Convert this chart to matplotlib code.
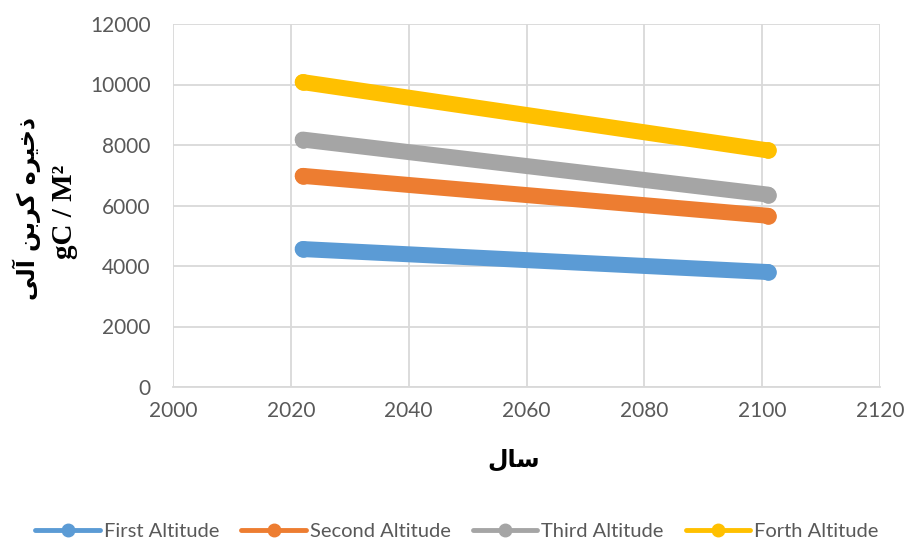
import matplotlib
matplotlib.use('Agg')
from matplotlib import pyplot as plt

# data
years = [2022, 2101]
first_alt = [4560, 3800]
second_alt = [6980, 5660]
third_alt = [8180, 6360]
forth_alt = [10080, 7820]

series_names = ['First Altitude', 'Second Altitude', 'Third Altitude', 'Forth Altitude']
series_colors = ['#5b9bd5', '#ed7d31', '#a5a5a5', '#ffc000']

# Persian labels, written in presentation forms (visual order) since matplotlib does no shaping
ylabel_fa = '\uFEF0\uFEDF\uFE81 \uFEE6\uFE91\uFEAE\uFEDB \uFEE9\uFEAE\uFEF4\uFEA7\uFEAB'
xlabel_fa = '\uFEDD\uFE8E\uFEB3'

fig = plt.figure(figsize=(9.07, 5.43), dpi=100)
ax = fig.add_axes([173/907, 1-387/543, (880-173)/907, (387-24)/543])

for vals, name, col in zip([first_alt, second_alt, third_alt, forth_alt], series_names, series_colors):
    ax.plot(years, vals, color=col, lw=11.5, solid_capstyle='round',
            marker='o', markersize=11, label=name, zorder=3)

ax.set_xlim(2000, 2120)
ax.set_ylim(0, 12000)
ax.set_xticks(range(2000, 2121, 20))
ax.set_yticks(range(0, 12001, 2000))
ax.grid(True, color='#d9d9d9', lw=1.3)
ax.set_axisbelow(True)
for s in ['top', 'right', 'left']:
    ax.spines[s].set_visible(False)
ax.spines['bottom'].set_color('#d9d9d9')
ax.spines['bottom'].set_linewidth(1.3)
ax.tick_params(axis='both', length=0, labelsize=15, labelcolor='#595959')
ax.tick_params(axis='y', pad=16)
ax.tick_params(axis='x', pad=10)
for lab in ax.get_xticklabels() + ax.get_yticklabels():
    lab.set_family('Lato')

fig.text(514/907, 1-460/543, xlabel_fa, ha='center', va='center',
         fontsize=17, fontweight='bold', family='DejaVu Sans')
fig.text(27/907, 1-208/543, ylabel_fa, ha='center', va='center', rotation=90,
         fontsize=17, fontweight='bold', family='DejaVu Sans')
fig.text(64/907, 1-212/543, 'gC / M\u00b2', ha='center', va='center', rotation=90,
         fontsize=21, fontweight='bold', family='Liberation Serif')

leg = fig.legend(loc='center', bbox_to_anchor=(457/907, 1-531/543), ncol=4, frameon=False,
                 prop={'family': 'Lato', 'size': 14.5}, handlelength=3.2,
                 columnspacing=1.1, handletextpad=0.2)
for h in leg.get_lines():
    h.set_linewidth(3.5)
    h.set_markersize(9)
for t in leg.get_texts():
    t.set_color('#595959')

fig.savefig('out.png', dpi=100)
